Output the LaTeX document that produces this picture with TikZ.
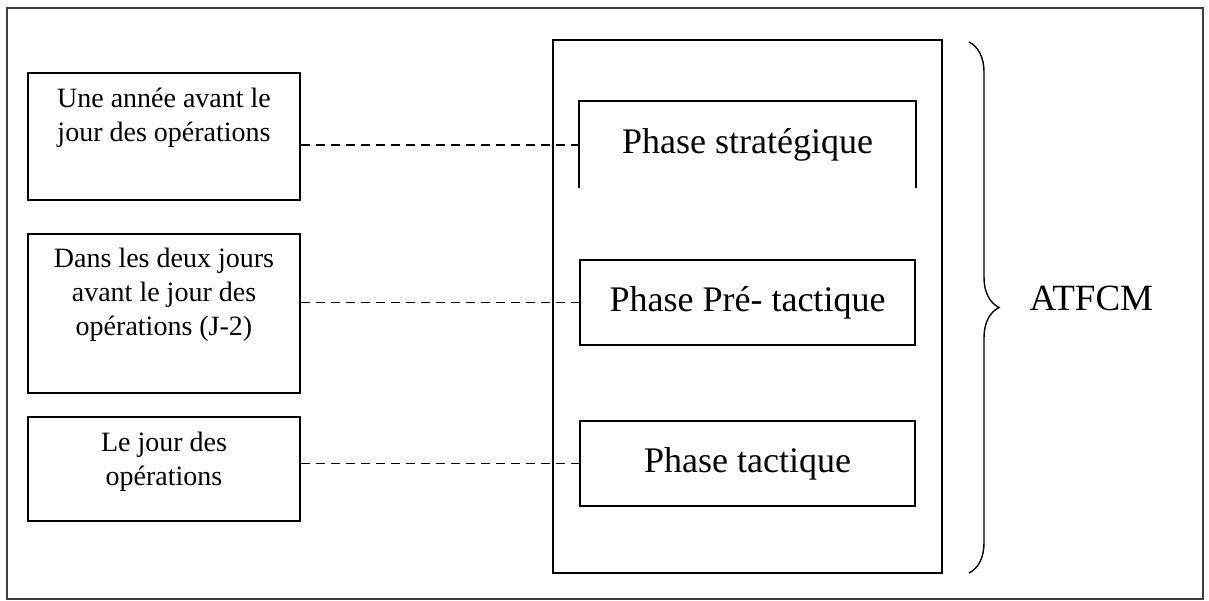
\documentclass[tikz,border=0pt]{standalone}
\usepackage{fontspec}
\setmainfont{Liberation Serif}
\usepackage{tikz}
\usetikzlibrary{positioning,decorations.pathreplacing}

\begin{document}
\begin{tikzpicture}[x=1pt, y=-1pt,
    daybox/.style={draw, line width=2pt, minimum width=272pt, inner sep=0pt},
    daytext/.style={align=center, inner sep=0pt, font={\fontsize{28}{34}\selectfont}},
    phasebox/.style={line width=2pt, minimum width=335pt, minimum height=85pt, inner sep=0pt, font={\fontsize{36}{42}\selectfont}},
    link/.style={dashed, dash pattern=on 9pt off 6pt, line width=1.8pt}]
    \useasboundingbox (0,0) rectangle (1209,601);
    \draw[line width=2pt, black!75] (7,8) rectangle (1203,599);

    % When
    \node[daybox, minimum height=127pt] (year) at (164,136.5) {};
    \node[daytext, below=16pt of year.north] (yeartext) {Une année avant le\\jour des opérations};
    \node[daybox, minimum height=159pt] (twodays) at (164,313.5) {};
    \node[daytext, below=15pt of twodays.north] (twodaystext) {Dans les deux jours\\avant le jour des\\opérations (J-2)};
    \node[daybox, minimum height=104pt] (today) at (164,469) {};
    \node[daytext, below=16pt of today.north] (todaytext) {Le jour des\\opérations};

    % Phases
    \node[draw, line width=2pt, minimum width=389pt, minimum height=533pt] (phases) at (747.5,306.5) {};
    \node[phasebox] (strat) at (747.5,145) {Phase stratégique};
    \draw[line width=2pt] (strat.south west) |- (strat.north east) -- (strat.south east);
    \node[phasebox, draw] (pretac) at (747.5,302.5) {Phase Pré- tactique};
    \node[phasebox, draw] (tac) at (747.5,463.5) {Phase tactique};

    % Links
    \draw[link] (year.east |- strat.west) -- (strat.west);
    \draw[link] (twodays.east |- pretac.west) -- (pretac.west);
    \draw[link] (today.east |- tac.west) -- (tac.west);

    % Brace
    \coordinate (btop) at (969,42);
    \coordinate (bbot) at (969,573);
    \draw[decorate, decoration={brace, amplitude=30pt}, line width=1.4pt] (btop) -- (bbot)
        node[midway, right=60pt, inner sep=0pt, yshift=9pt, font={\fontsize{37}{43}\selectfont}] (atfcm) {ATFCM};
\end{tikzpicture}
\end{document}
